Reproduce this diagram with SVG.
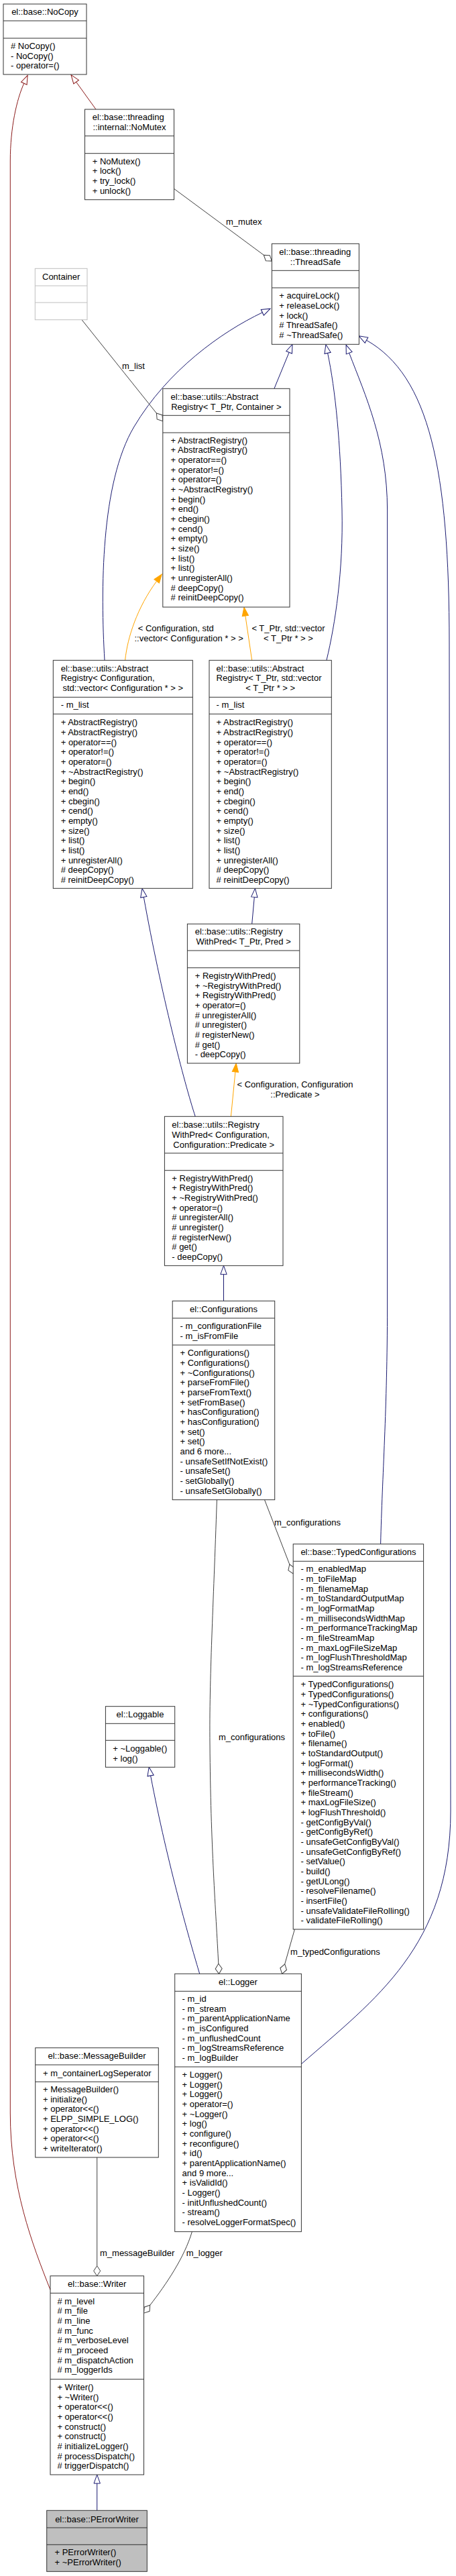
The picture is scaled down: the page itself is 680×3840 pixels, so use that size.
<svg xmlns="http://www.w3.org/2000/svg" width="680" height="3840" viewBox="0 0 680 3840">
<style>
.bx{fill:#fff;stroke:#333;stroke-width:1}
.sl{stroke:#333;stroke-width:1}
.t{font-family:"Liberation Sans",Arial,sans-serif;font-size:13px;fill:#000}
.c{text-anchor:middle}
.eb{fill:none;stroke:#191970;stroke-width:1}
.er{fill:none;stroke:#8b1a1a;stroke-width:1}
.eo{fill:none;stroke:#ffa500;stroke-width:1}
.eg{fill:none;stroke:#404040;stroke-width:1}
</style>
<defs>
<marker id="mb" markerUnits="userSpaceOnUse" viewBox="-1 -6 15 12" markerWidth="15" markerHeight="12" refX="0" refY="0" orient="auto" overflow="visible"><path d="M0,-4.7 L13,0 L0,4.7 Z" fill="#fff" stroke="#191970"/></marker>
<marker id="mr" markerUnits="userSpaceOnUse" viewBox="-1 -6 15 12" markerWidth="15" markerHeight="12" refX="0" refY="0" orient="auto" overflow="visible"><path d="M0,-4.7 L13,0 L0,4.7 Z" fill="#fff" stroke="#8b1a1a"/></marker>
<marker id="mo" markerUnits="userSpaceOnUse" viewBox="-1 -6 15 12" markerWidth="15" markerHeight="12" refX="0" refY="0" orient="auto" overflow="visible"><path d="M0,-4.7 L13,0 L0,4.7 Z" fill="#ffa500" stroke="#ffa500"/></marker>
<marker id="md" markerUnits="userSpaceOnUse" viewBox="-1 -6 17 12" markerWidth="17" markerHeight="12" refX="0" refY="0" orient="auto" overflow="visible"><path d="M0,0 L7.5,-5 L15,0 L7.5,5 Z" fill="#fff" stroke="#404040"/></marker>
</defs>

<g id="connectors">
<path class="er" d="M75,3413.3 C48,3345 15.3,3260 15.3,3150 L15.3,240 C15.3,190 25,148 35.8,124.2" marker-end="url(#mr)"/>
<path class="er" d="M143,163 L113.6,122.2" marker-end="url(#mr)"/>
<path class="eg" d="M260,281.7 L393.3,380.2" marker-end="url(#md)"/>
<text class="t" x="337" y="334.6">m_mutex</text>
<path class="eb" d="M408.9,579.3 L431.1,525.3" marker-end="url(#mb)"/>
<path class="eb" d="M156,984.3 C150,880 150,720 200,636 C250,552 330,495 391.3,465.8" marker-end="url(#mb)"/>
<path class="eb" d="M487,984 C500,930 512,850 510,760 C508,660 500,580 488.6,526.3" marker-end="url(#mb)"/>
<path class="eb" d="M567.6,2301.7 C570,2200 577.6,2100 577.6,1950 L577.6,760 C577.6,660 545,590 520.7,526.2" marker-end="url(#mb)"/>
<path class="eb" d="M449.4,3076.7 C560,2980 672,2900 672,2700 L670,960 C670,700 640,560 546.5,507.2" marker-end="url(#mb)"/>
<path class="eg" d="M122,476.7 L233.4,616" marker-end="url(#md)"/>
<text class="t" x="182" y="550.3">m_list</text>
<path class="eo" d="M186.6,984.3 C190,950 205,905 233.6,866.4" marker-end="url(#mo)"/>
<text class="t" x="205.7" y="941.3">&lt; Configuration, std</text>
<text class="t" x="200.5" y="956.3">::vector&lt; Configuration * &gt; &gt;</text>
<path class="eo" d="M375.7,984.3 L365.9,918" marker-end="url(#mo)"/>
<text class="t c" x="430" y="941.3">&lt; T_Ptr, std::vector</text>
<text class="t c" x="430" y="956.3">&lt; T_Ptr * &gt; &gt;</text>
<path class="eb" d="M375.7,1377.3 L379.3,1337.3" marker-end="url(#mb)"/>
<path class="eb" d="M291.2,1664.3 C275,1615 240,1480 214.3,1337.2" marker-end="url(#mb)"/>
<path class="eo" d="M344.4,1664.3 L350.9,1597.9" marker-end="url(#mo)"/>
<text class="t c" x="440" y="1621.3">&lt; Configuration, Configuration</text>
<text class="t c" x="440" y="1636.3">::Predicate &gt;</text>
<path class="eb" d="M333.5,1939.3 L333.5,1899.7" marker-end="url(#mb)"/>
<path class="eg" d="M394.5,2235.7 L431.8,2332" marker-end="url(#md)"/>
<text class="t" x="409" y="2273.6">m_configurations</text>
<path class="eg" d="M323.4,2235.7 C318,2400 312,2500 313,2600 C314,2750 322,2850 325.8,2927.3" marker-end="url(#md)"/>
<text class="t" x="326" y="2593.6">m_configurations</text>
<path class="eg" d="M439.4,2876 L424.7,2927.9" marker-end="url(#md)"/>
<text class="t" x="433" y="2913.6">m_typedConfigurations</text>
<path class="eb" d="M297.7,2942.3 C285,2900 250,2780 224.6,2646.9" marker-end="url(#mb)"/>
<path class="eg" d="M144.7,3216 L144.7,3377.7" marker-end="url(#md)"/>
<text class="t" x="149" y="3363.3">m_messageBuilder</text>
<path class="eg" d="M286.4,3326.7 C275,3365 248,3405 223.7,3436.3" marker-end="url(#md)"/>
<text class="t" x="277.7" y="3363.3">m_logger</text>
<path class="eb" d="M144.7,3742.3 L144.7,3702" marker-end="url(#mb)"/>
</g>

<g id="NoCopy">
<rect class="bx" x="5" y="6" width="124" height="105"/>
<line class="sl" x1="5" y1="31" x2="129" y2="31"/><line class="sl" x1="5" y1="57" x2="129" y2="57"/>
<text class="t c" x="67" y="22">el::base::NoCopy</text>
<text class="t" x="16" y="72.9"><tspan x="16"># NoCopy()</tspan><tspan x="16" dy="14.67">- NoCopy()</tspan><tspan x="16" dy="14.67">- operator=()</tspan></text>
</g>

<g id="NoMutex">
<rect class="bx" x="126.5" y="163" width="133" height="134.7"/>
<line class="sl" x1="126.5" y1="202.7" x2="259.5" y2="202.7"/><line class="sl" x1="126.5" y1="228.7" x2="259.5" y2="228.7"/>
<text class="t" x="137.7" y="179">el::base::threading</text>
<text class="t c" x="193" y="193.7">::internal::NoMutex</text>
<text class="t" x="137.7" y="244.6"><tspan x="137.7">+ NoMutex()</tspan><tspan x="137.7" dy="14.67">+ lock()</tspan><tspan x="137.7" dy="14.67">+ try_lock()</tspan><tspan x="137.7" dy="14.67">+ unlock()</tspan></text>
</g>

<g id="ThreadSafe">
<rect class="bx" x="405.4" y="363.3" width="130" height="150"/>
<line class="sl" x1="405.4" y1="403.3" x2="535.4" y2="403.3"/><line class="sl" x1="405.4" y1="429" x2="535.4" y2="429"/>
<text class="t" x="416.3" y="380.3">el::base::threading</text>
<text class="t c" x="470.4" y="395">::ThreadSafe</text>
<text class="t" x="416.3" y="445.3"><tspan x="416.3">+ acquireLock()</tspan><tspan x="416.3" dy="14.67">+ releaseLock()</tspan><tspan x="416.3" dy="14.67">+ lock()</tspan><tspan x="416.3" dy="14.67"># ThreadSafe()</tspan><tspan x="416.3" dy="14.67"># ~ThreadSafe()</tspan></text>
</g>

<g id="Container">
<rect x="52.3" y="400.3" width="77.7" height="76.4" fill="#fff" stroke="#bfbfbf"/>
<line x1="52.3" y1="426" x2="130" y2="426" stroke="#bfbfbf"/><line x1="52.3" y1="451" x2="130" y2="451" stroke="#bfbfbf"/>
<text class="t c" x="91.2" y="417">Container</text>
</g>

<g id="AbstractRegistry_TPtr_Container">
<rect class="bx" x="242.8" y="579.3" width="189.2" height="325.7"/>
<line class="sl" x1="242.8" y1="619.3" x2="432" y2="619.3"/><line class="sl" x1="242.8" y1="645" x2="432" y2="645"/>
<text class="t" x="254.6" y="596.3">el::base::utils::Abstract</text>
<text class="t c" x="337.4" y="611">Registry&lt; T_Ptr, Container &gt;</text>
<text class="t" x="254.6" y="660.6"><tspan x="254.6">+ AbstractRegistry()</tspan><tspan x="254.6" dy="14.67">+ AbstractRegistry()</tspan><tspan x="254.6" dy="14.67">+ operator==()</tspan><tspan x="254.6" dy="14.67">+ operator!=()</tspan><tspan x="254.6" dy="14.67">+ operator=()</tspan><tspan x="254.6" dy="14.67">+ ~AbstractRegistry()</tspan><tspan x="254.6" dy="14.67">+ begin()</tspan><tspan x="254.6" dy="14.67">+ end()</tspan><tspan x="254.6" dy="14.67">+ cbegin()</tspan><tspan x="254.6" dy="14.67">+ cend()</tspan><tspan x="254.6" dy="14.67">+ empty()</tspan><tspan x="254.6" dy="14.67">+ size()</tspan><tspan x="254.6" dy="14.67">+ list()</tspan><tspan x="254.6" dy="14.67">+ list()</tspan><tspan x="254.6" dy="14.67">+ unregisterAll()</tspan><tspan x="254.6" dy="14.67"># deepCopy()</tspan><tspan x="254.6" dy="14.67"># reinitDeepCopy()</tspan></text>
</g>

<g id="AbstractRegistry_Configuration">
<rect class="bx" x="79.3" y="984.3" width="208" height="340"/>
<line class="sl" x1="79.3" y1="1039.3" x2="287.3" y2="1039.3"/><line class="sl" x1="79.3" y1="1064.3" x2="287.3" y2="1064.3"/>
<text class="t" x="90.7" y="1000.6">el::base::utils::Abstract</text>
<text class="t" x="90.7" y="1015.3">Registry&lt; Configuration,</text>
<text class="t c" x="183.3" y="1030">std::vector&lt; Configuration * &gt; &gt;</text>
<text class="t" x="90.7" y="1055">- m_list</text>
<text class="t" x="90.7" y="1081.3"><tspan x="90.7">+ AbstractRegistry()</tspan><tspan x="90.7" dy="14.67">+ AbstractRegistry()</tspan><tspan x="90.7" dy="14.67">+ operator==()</tspan><tspan x="90.7" dy="14.67">+ operator!=()</tspan><tspan x="90.7" dy="14.67">+ operator=()</tspan><tspan x="90.7" dy="14.67">+ ~AbstractRegistry()</tspan><tspan x="90.7" dy="14.67">+ begin()</tspan><tspan x="90.7" dy="14.67">+ end()</tspan><tspan x="90.7" dy="14.67">+ cbegin()</tspan><tspan x="90.7" dy="14.67">+ cend()</tspan><tspan x="90.7" dy="14.67">+ empty()</tspan><tspan x="90.7" dy="14.67">+ size()</tspan><tspan x="90.7" dy="14.67">+ list()</tspan><tspan x="90.7" dy="14.67">+ list()</tspan><tspan x="90.7" dy="14.67">+ unregisterAll()</tspan><tspan x="90.7" dy="14.67"># deepCopy()</tspan><tspan x="90.7" dy="14.67"># reinitDeepCopy()</tspan></text>
</g>

<g id="AbstractRegistry_TPtr_vector">
<rect class="bx" x="312" y="984.3" width="182.3" height="340"/>
<line class="sl" x1="312" y1="1039.3" x2="494.3" y2="1039.3"/><line class="sl" x1="312" y1="1064.3" x2="494.3" y2="1064.3"/>
<text class="t" x="322.6" y="1000.6">el::base::utils::Abstract</text>
<text class="t" x="322.6" y="1015.3">Registry&lt; T_Ptr, std::vector</text>
<text class="t c" x="403.2" y="1030">&lt; T_Ptr * &gt; &gt;</text>
<text class="t" x="322.6" y="1055">- m_list</text>
<text class="t" x="322.6" y="1081.3"><tspan x="322.6">+ AbstractRegistry()</tspan><tspan x="322.6" dy="14.67">+ AbstractRegistry()</tspan><tspan x="322.6" dy="14.67">+ operator==()</tspan><tspan x="322.6" dy="14.67">+ operator!=()</tspan><tspan x="322.6" dy="14.67">+ operator=()</tspan><tspan x="322.6" dy="14.67">+ ~AbstractRegistry()</tspan><tspan x="322.6" dy="14.67">+ begin()</tspan><tspan x="322.6" dy="14.67">+ end()</tspan><tspan x="322.6" dy="14.67">+ cbegin()</tspan><tspan x="322.6" dy="14.67">+ cend()</tspan><tspan x="322.6" dy="14.67">+ empty()</tspan><tspan x="322.6" dy="14.67">+ size()</tspan><tspan x="322.6" dy="14.67">+ list()</tspan><tspan x="322.6" dy="14.67">+ list()</tspan><tspan x="322.6" dy="14.67">+ unregisterAll()</tspan><tspan x="322.6" dy="14.67"># deepCopy()</tspan><tspan x="322.6" dy="14.67"># reinitDeepCopy()</tspan></text>
</g>

<g id="RegistryWithPred_TPtr_Pred">
<rect class="bx" x="279.4" y="1377.3" width="167.4" height="207.7"/>
<line class="sl" x1="279.4" y1="1417" x2="446.8" y2="1417"/><line class="sl" x1="279.4" y1="1442.7" x2="446.8" y2="1442.7"/>
<text class="t" x="290.7" y="1393.3">el::base::utils::Registry</text>
<text class="t c" x="363.1" y="1408">WithPred&lt; T_Ptr, Pred &gt;</text>
<text class="t" x="290.7" y="1459"><tspan x="290.7">+ RegistryWithPred()</tspan><tspan x="290.7" dy="14.67">+ ~RegistryWithPred()</tspan><tspan x="290.7" dy="14.67">+ RegistryWithPred()</tspan><tspan x="290.7" dy="14.67">+ operator=()</tspan><tspan x="290.7" dy="14.67"># unregisterAll()</tspan><tspan x="290.7" dy="14.67"># unregister()</tspan><tspan x="290.7" dy="14.67"># registerNew()</tspan><tspan x="290.7" dy="14.67"># get()</tspan><tspan x="290.7" dy="14.67">- deepCopy()</tspan></text>
</g>

<g id="RegistryWithPred_Configuration">
<rect class="bx" x="245.4" y="1664.3" width="176.6" height="222.4"/>
<line class="sl" x1="245.4" y1="1719" x2="422" y2="1719"/><line class="sl" x1="245.4" y1="1744.7" x2="422" y2="1744.7"/>
<text class="t" x="256.3" y="1681.3">el::base::utils::Registry</text>
<text class="t" x="256.3" y="1696">WithPred&lt; Configuration,</text>
<text class="t c" x="333.7" y="1710.6">Configuration::Predicate &gt;</text>
<text class="t" x="256.3" y="1760.6"><tspan x="256.3">+ RegistryWithPred()</tspan><tspan x="256.3" dy="14.67">+ RegistryWithPred()</tspan><tspan x="256.3" dy="14.67">+ ~RegistryWithPred()</tspan><tspan x="256.3" dy="14.67">+ operator=()</tspan><tspan x="256.3" dy="14.67"># unregisterAll()</tspan><tspan x="256.3" dy="14.67"># unregister()</tspan><tspan x="256.3" dy="14.67"># registerNew()</tspan><tspan x="256.3" dy="14.67"># get()</tspan><tspan x="256.3" dy="14.67">- deepCopy()</tspan></text>
</g>

<g id="Configurations">
<rect class="bx" x="257.2" y="1939.3" width="152.5" height="296.4"/>
<line class="sl" x1="257.2" y1="1965" x2="409.7" y2="1965"/><line class="sl" x1="257.2" y1="2005" x2="409.7" y2="2005"/>
<text class="t c" x="333.5" y="1956.3">el::Configurations</text>
<text class="t" x="268.5" y="1981.3"><tspan x="268.5">- m_configurationFile</tspan><tspan x="268.5" dy="14.67">- m_isFromFile</tspan></text>
<text class="t" x="268.5" y="2021.3"><tspan x="268.5">+ Configurations()</tspan><tspan x="268.5" dy="14.67">+ Configurations()</tspan><tspan x="268.5" dy="14.67">+ ~Configurations()</tspan><tspan x="268.5" dy="14.67">+ parseFromFile()</tspan><tspan x="268.5" dy="14.67">+ parseFromText()</tspan><tspan x="268.5" dy="14.67">+ setFromBase()</tspan><tspan x="268.5" dy="14.67">+ hasConfiguration()</tspan><tspan x="268.5" dy="14.67">+ hasConfiguration()</tspan><tspan x="268.5" dy="14.67">+ set()</tspan><tspan x="268.5" dy="14.67">+ set()</tspan><tspan x="268.5" dy="14.67">and 6 more...</tspan><tspan x="268.5" dy="14.67">- unsafeSetIfNotExist()</tspan><tspan x="268.5" dy="14.67">- unsafeSet()</tspan><tspan x="268.5" dy="14.67">- setGlobally()</tspan><tspan x="268.5" dy="14.67">- unsafeSetGlobally()</tspan></text>
</g>

<g id="TypedConfigurations">
<rect class="bx" x="437.2" y="2301.7" width="194.4" height="574.3"/>
<line class="sl" x1="437.2" y1="2327.3" x2="631.6" y2="2327.3"/><line class="sl" x1="437.2" y1="2498.7" x2="631.6" y2="2498.7"/>
<text class="t c" x="534.4" y="2318">el::base::TypedConfigurations</text>
<text class="t" x="448.5" y="2343.3"><tspan x="448.5">- m_enabledMap</tspan><tspan x="448.5" dy="14.67">- m_toFileMap</tspan><tspan x="448.5" dy="14.67">- m_filenameMap</tspan><tspan x="448.5" dy="14.67">- m_toStandardOutputMap</tspan><tspan x="448.5" dy="14.67">- m_logFormatMap</tspan><tspan x="448.5" dy="14.67">- m_millisecondsWidthMap</tspan><tspan x="448.5" dy="14.67">- m_performanceTrackingMap</tspan><tspan x="448.5" dy="14.67">- m_fileStreamMap</tspan><tspan x="448.5" dy="14.67">- m_maxLogFileSizeMap</tspan><tspan x="448.5" dy="14.67">- m_logFlushThresholdMap</tspan><tspan x="448.5" dy="14.67">- m_logStreamsReference</tspan></text>
<text class="t" x="448.5" y="2515.3"><tspan x="448.5">+ TypedConfigurations()</tspan><tspan x="448.5" dy="14.67">+ TypedConfigurations()</tspan><tspan x="448.5" dy="14.67">+ ~TypedConfigurations()</tspan><tspan x="448.5" dy="14.67">+ configurations()</tspan><tspan x="448.5" dy="14.67">+ enabled()</tspan><tspan x="448.5" dy="14.67">+ toFile()</tspan><tspan x="448.5" dy="14.67">+ filename()</tspan><tspan x="448.5" dy="14.67">+ toStandardOutput()</tspan><tspan x="448.5" dy="14.67">+ logFormat()</tspan><tspan x="448.5" dy="14.67">+ millisecondsWidth()</tspan><tspan x="448.5" dy="14.67">+ performanceTracking()</tspan><tspan x="448.5" dy="14.67">+ fileStream()</tspan><tspan x="448.5" dy="14.67">+ maxLogFileSize()</tspan><tspan x="448.5" dy="14.67">+ logFlushThreshold()</tspan><tspan x="448.5" dy="14.67">- getConfigByVal()</tspan><tspan x="448.5" dy="14.67">- getConfigByRef()</tspan><tspan x="448.5" dy="14.67">- unsafeGetConfigByVal()</tspan><tspan x="448.5" dy="14.67">- unsafeGetConfigByRef()</tspan><tspan x="448.5" dy="14.67">- setValue()</tspan><tspan x="448.5" dy="14.67">- build()</tspan><tspan x="448.5" dy="14.67">- getULong()</tspan><tspan x="448.5" dy="14.67">- resolveFilename()</tspan><tspan x="448.5" dy="14.67">- insertFile()</tspan><tspan x="448.5" dy="14.67">- unsafeValidateFileRolling()</tspan><tspan x="448.5" dy="14.67">- validateFileRolling()</tspan></text>
</g>

<g id="Loggable">
<rect class="bx" x="157.4" y="2543.7" width="103.3" height="90.6"/>
<line class="sl" x1="157.4" y1="2569.3" x2="260.7" y2="2569.3"/><line class="sl" x1="157.4" y1="2594.3" x2="260.7" y2="2594.3"/>
<text class="t c" x="209" y="2559.6">el::Loggable</text>
<text class="t" x="168.3" y="2611.3"><tspan x="168.3">+ ~Loggable()</tspan><tspan x="168.3" dy="14.67">+ log()</tspan></text>
</g>

<g id="Logger">
<rect class="bx" x="260.7" y="2942.3" width="188.7" height="384.4"/>
<line class="sl" x1="260.7" y1="2968.3" x2="449.4" y2="2968.3"/><line class="sl" x1="260.7" y1="3081" x2="449.4" y2="3081"/>
<text class="t c" x="355" y="2959.3">el::Logger</text>
<text class="t" x="271.6" y="2984"><tspan x="271.6">- m_id</tspan><tspan x="271.6" dy="14.67">- m_stream</tspan><tspan x="271.6" dy="14.67">- m_parentApplicationName</tspan><tspan x="271.6" dy="14.67">- m_isConfigured</tspan><tspan x="271.6" dy="14.67">- m_unflushedCount</tspan><tspan x="271.6" dy="14.67">- m_logStreamsReference</tspan><tspan x="271.6" dy="14.67">- m_logBuilder</tspan></text>
<text class="t" x="271.6" y="3097"><tspan x="271.6">+ Logger()</tspan><tspan x="271.6" dy="14.67">+ Logger()</tspan><tspan x="271.6" dy="14.67">+ Logger()</tspan><tspan x="271.6" dy="14.67">+ operator=()</tspan><tspan x="271.6" dy="14.67">+ ~Logger()</tspan><tspan x="271.6" dy="14.67">+ log()</tspan><tspan x="271.6" dy="14.67">+ configure()</tspan><tspan x="271.6" dy="14.67">+ reconfigure()</tspan><tspan x="271.6" dy="14.67">+ id()</tspan><tspan x="271.6" dy="14.67">+ parentApplicationName()</tspan><tspan x="271.6" dy="14.67">and 9 more...</tspan><tspan x="271.6" dy="14.67">+ isValidId()</tspan><tspan x="271.6" dy="14.67">- Logger()</tspan><tspan x="271.6" dy="14.67">- initUnflushedCount()</tspan><tspan x="271.6" dy="14.67">- stream()</tspan><tspan x="271.6" dy="14.67">- resolveLoggerFormatSpec()</tspan></text>
</g>

<g id="MessageBuilder">
<rect class="bx" x="52.7" y="3052.7" width="183.6" height="163.3"/>
<line class="sl" x1="52.7" y1="3078" x2="236.3" y2="3078"/><line class="sl" x1="52.7" y1="3103.3" x2="236.3" y2="3103.3"/>
<text class="t c" x="144.5" y="3069">el::base::MessageBuilder</text>
<text class="t" x="64" y="3094.6">+ m_containerLogSeperator</text>
<text class="t" x="64" y="3119"><tspan x="64">+ MessageBuilder()</tspan><tspan x="64" dy="14.67">+ initialize()</tspan><tspan x="64" dy="14.67">+ operator&lt;&lt;()</tspan><tspan x="64" dy="14.67">+ ELPP_SIMPLE_LOG()</tspan><tspan x="64" dy="14.67">+ operator&lt;&lt;()</tspan><tspan x="64" dy="14.67">+ operator&lt;&lt;()</tspan><tspan x="64" dy="14.67">+ writeIterator()</tspan></text>
</g>

<g id="Writer">
<rect class="bx" x="75" y="3392.7" width="139.5" height="296.3"/>
<line class="sl" x1="75" y1="3418.3" x2="214.5" y2="3418.3"/><line class="sl" x1="75" y1="3546.7" x2="214.5" y2="3546.7"/>
<text class="t c" x="144.7" y="3409">el::base::Writer</text>
<text class="t" x="85.4" y="3434.6"><tspan x="85.4"># m_level</tspan><tspan x="85.4" dy="14.67"># m_file</tspan><tspan x="85.4" dy="14.67"># m_line</tspan><tspan x="85.4" dy="14.67"># m_func</tspan><tspan x="85.4" dy="14.67"># m_verboseLevel</tspan><tspan x="85.4" dy="14.67"># m_proceed</tspan><tspan x="85.4" dy="14.67"># m_dispatchAction</tspan><tspan x="85.4" dy="14.67"># m_loggerIds</tspan></text>
<text class="t" x="85.4" y="3563"><tspan x="85.4">+ Writer()</tspan><tspan x="85.4" dy="14.67">+ ~Writer()</tspan><tspan x="85.4" dy="14.67">+ operator&lt;&lt;()</tspan><tspan x="85.4" dy="14.67">+ operator&lt;&lt;()</tspan><tspan x="85.4" dy="14.67">+ construct()</tspan><tspan x="85.4" dy="14.67">+ construct()</tspan><tspan x="85.4" dy="14.67"># initializeLogger()</tspan><tspan x="85.4" dy="14.67"># processDispatch()</tspan><tspan x="85.4" dy="14.67"># triggerDispatch()</tspan></text>
</g>

<g id="PErrorWriter">
<rect x="69.7" y="3742.3" width="149.6" height="91" fill="#bfbfbf" stroke="#333"/>
<line class="sl" x1="69.7" y1="3768" x2="219.3" y2="3768"/><line class="sl" x1="69.7" y1="3793.3" x2="219.3" y2="3793.3"/>
<text class="t c" x="144.5" y="3759.6">el::base::PErrorWriter</text>
<text class="t" x="81.5" y="3809"><tspan x="81.5">+ PErrorWriter()</tspan><tspan x="81.5" dy="14.67">+ ~PErrorWriter()</tspan></text>
</g>
</svg>
